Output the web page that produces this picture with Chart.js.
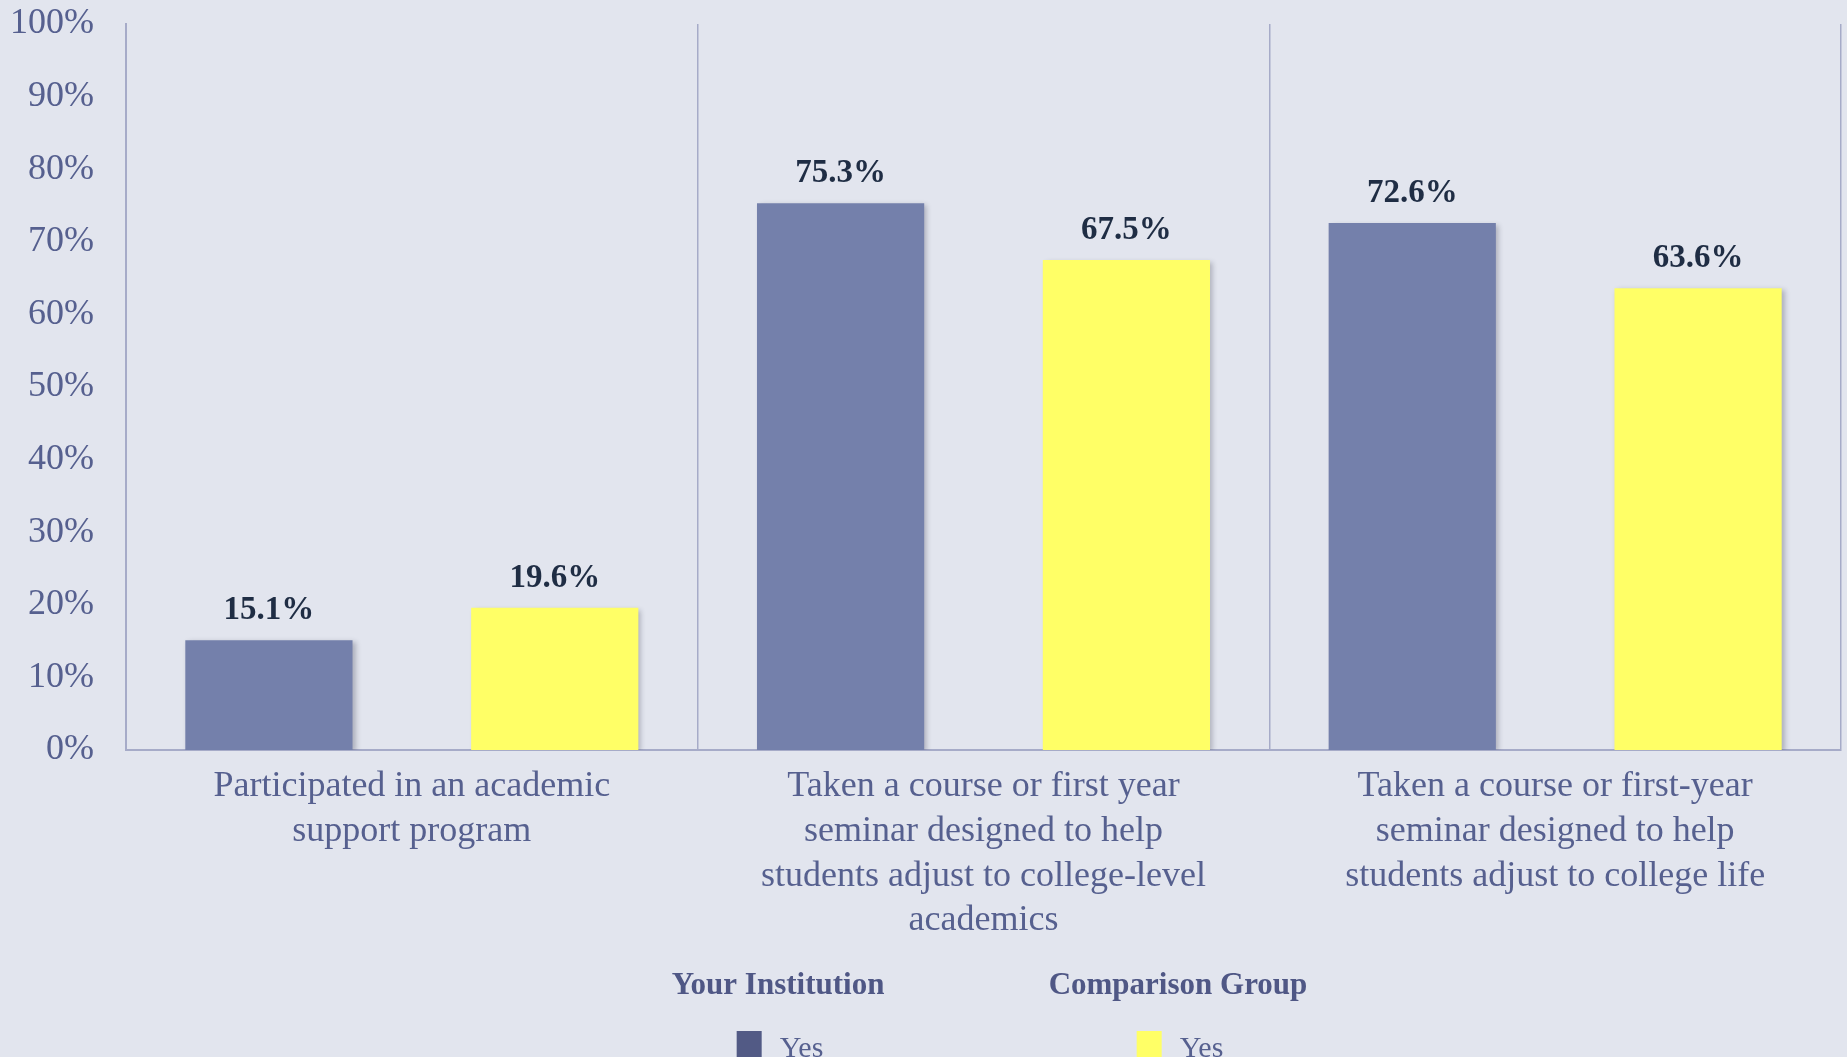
<!DOCTYPE html>
<html>
<head>
<meta charset="utf-8">
<script src="https://cdn.jsdelivr.net/npm/chart.js@4"></script>
<style>
  html, body { margin: 0; padding: 0; background: #e2e5ee; }
  #wrap { width: 1847px; height: 1057px; }
</style>
</head>
<body>
<div id="wrap"><canvas id="chart" width="1847" height="1057"></canvas></div>
<script>
// --- data ---
const categories = [
    ['Participated in an academic', 'support program'],
    ['Taken a course or first year', 'seminar designed to help', 'students adjust to college-level', 'academics'],
    ['Taken a course or first-year', 'seminar designed to help', 'students adjust to college life']
];
const institutionValues = [15.1, 75.3, 72.6];
const comparisonValues = [19.6, 67.5, 63.6];
const yTicks = [0, 10, 20, 30, 40, 50, 60, 70, 80, 90, 100];
const legendGroups = ['Your Institution', 'Comparison Group'];
const legendItems = ['Yes', 'Yes'];

// colours
const barBlue = '#7480ab';
const barYellow = '#ffff66';
const legendBlue = '#525a85';
const textBlue = '#56608f';
const labelDark = '#1f2d44';
const lineColor = '#a6abc8';
const serif = '"Liberation Serif", "DejaVu Serif", serif';

// soft shadow under the bars
const barShadow = {
    id: 'barShadow',
    beforeDatasetsDraw(chart) {
        const ctx = chart.ctx;
        ctx.save();
        ctx.shadowColor = 'rgba(40, 40, 60, 0.28)';
        ctx.shadowBlur = 5;
        ctx.shadowOffsetX = 3;
        ctx.shadowOffsetY = 2;
    },
    afterDatasetsDraw(chart) {
        chart.ctx.restore();
    }
};

// value labels above each bar
const valueLabels = {
    id: 'valueLabels',
    afterDatasetsDraw(chart) {
        const ctx = chart.ctx;
        ctx.save();
        ctx.font = 'bold 33px ' + serif;
        ctx.fillStyle = labelDark;
        ctx.textAlign = 'center';
        ctx.textBaseline = 'alphabetic';
        chart.data.datasets.forEach((ds, i) => {
            chart.getDatasetMeta(i).data.forEach((bar, j) => {
                ctx.fillText(ds.data[j].toFixed(1) + '%', bar.x, bar.y - 21);
            });
        });
        ctx.restore();
    }
};

// grouped legend at the bottom (group title + swatch)
const groupLegend = {
    id: 'groupLegend',
    afterDraw(chart) {
        const ctx = chart.ctx;
        const centers = [778, 1178];
        ctx.save();
        chart.data.datasets.forEach((ds, i) => {
            const cx = centers[i];
            ctx.font = 'bold 31px ' + serif;
            ctx.fillStyle = '#4f5785';
            ctx.textAlign = 'center';
            ctx.textBaseline = 'middle';
            ctx.fillText(legendGroups[i], cx, 986);

            ctx.font = '30px ' + serif;
            const tw = ctx.measureText(legendItems[i]).width;
            const box = 25, gap = 18;
            const total = box + gap + tw;
            const x0 = cx - total / 2 + 2;
            ctx.fillStyle = ds.legendColor;
            ctx.fillRect(x0, 1031, box, 26);
            ctx.fillStyle = textBlue;
            ctx.textAlign = 'left';
            ctx.textBaseline = 'alphabetic';
            ctx.fillText(legendItems[i], x0 + box + gap, 1057);
        });
        ctx.restore();
    }
};

new Chart(document.getElementById('chart'), {
    type: 'bar',
    data: {
        labels: categories,
        datasets: [
            {
                label: legendGroups[0],
                data: institutionValues,
                backgroundColor: barBlue,
                legendColor: legendBlue,
                categoryPercentage: 1.0,
                barPercentage: 0.585
            },
            {
                label: legendGroups[1],
                data: comparisonValues,
                backgroundColor: barYellow,
                legendColor: barYellow,
                categoryPercentage: 1.0,
                barPercentage: 0.585
            }
        ]
    },
    options: {
        responsive: false,
        animation: false,
        layout: { padding: { top: 24, right: 6, left: 0, bottom: 0 } },
        plugins: {
            legend: { display: false },
            tooltip: { enabled: false }
        },
        scales: {
            x: {
                grid: { display: true, offset: true, color: lineColor, lineWidth: 1.5, drawTicks: false },
                border: { display: true, color: lineColor, width: 2 },
                ticks: {
                    color: textBlue,
                    font: { family: serif, size: 36, lineHeight: 1.245 },
                    padding: 14,
                    maxRotation: 0,
                    autoSkip: false
                },
                afterFit(scale) {
                    scale.height = 307;
                    scale.paddingTop = 0;
                    scale.paddingBottom = 0;
                    scale.paddingLeft = 0;
                    scale.paddingRight = 0;
                }
            },
            y: {
                min: 0,
                max: 100,
                afterBuildTicks(scale) { scale.ticks = yTicks.map(v => ({ value: v })); },
                grid: { display: false, drawTicks: false },
                border: { display: true, color: lineColor, width: 2 },
                ticks: {
                    color: textBlue,
                    font: { family: serif, size: 36 },
                    padding: 32,
                    callback: v => v + '%'
                },
                afterFit(scale) {
                    scale.width = 126;
                    scale.paddingTop = 0;
                    scale.paddingBottom = 0;
                }
            }
        }
    },
    plugins: [barShadow, valueLabels, groupLegend]
});
</script>
</body>
</html>
